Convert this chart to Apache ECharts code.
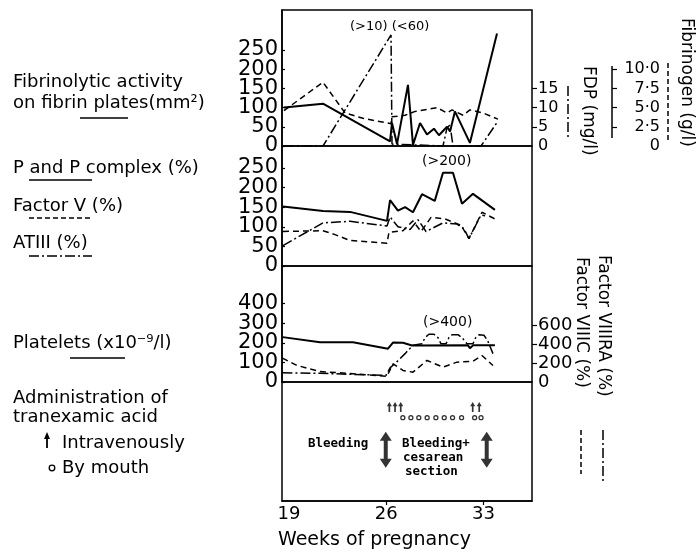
<!DOCTYPE html>
<html>
<head>
<meta charset="utf-8">
<title>Tranexamic acid in pregnancy</title>
<script src="https://cdn.jsdelivr.net/npm/echarts@6/dist/echarts.min.js"></script>
<style>
html, body { margin: 0; padding: 0; background: #fff; }
#main { width: 696px; height: 553px; }
</style>
</head>
<body>
<div id="main"></div>
<script>
// ---- data (x = weeks of pregnancy) ----
// panel 1
var fibWeeks = [18.64, 21.45, 26.28, 26.42, 26.78, 27.57, 27.93, 28.44, 28.94, 29.44, 29.8, 30.38, 30.6, 30.95, 32.03, 33.98];
var fibActivity = [100, 110, 12, 60, 5, 159, 3, 60, 30, 45, 28, 50, 38, 90, 8, 293];
var fdpWeeks = [18.64, 21.45, 26.35, 26.42, 30.09, 30.38, 30.6, 30.81, 32.83, 34.05];
var fdp = [0, 0, 28.9, 0.5, 0, 4.7, 5.5, 0, 0, 6.5];
var fibrinogenWeeks = [18.64, 21.45, 23.04, 24.33, 26.35, 26.42, 27.36, 28.08, 29.66, 30.38, 30.74, 31.53, 32.03, 32.97, 34.05];
var fibrinogen = [4.6, 8.3, 4.3, 3.6, 2.9, 3.8, 4.0, 4.5, 5.0, 4.3, 4.7, 4.0, 4.7, 4.3, 3.5];
// panel 2
var ppWeeks = [18.57, 21.45, 23.4, 26.06, 26.28, 26.85, 27.36, 27.93, 28.58, 29.5, 30.09, 30.81, 31.46, 32.25, 33.83];
var ppComplex = [152, 140, 138, 115, 168, 141, 150, 137, 183, 166, 238, 238, 159, 184, 143];
var f5Weeks = [18.57, 21.45, 22.32, 23.4, 26.06, 26.2, 27.21, 27.93, 28.51, 29.23, 30.24, 31.39, 31.96, 32.9, 33.83];
var factorV = [88, 90, 80, 65, 58, 86, 90, 115, 88, 124, 120, 104, 70, 137, 120];
var at3Weeks = [18.57, 21.45, 23.4, 26.06, 26.28, 26.85, 27.72, 28.29, 28.87, 30.09, 31.1, 31.6, 31.96, 32.83, 33.12];
var atIII = [52, 110, 114, 102, 125, 100, 93, 118, 88, 110, 107, 95, 70, 130, 128];
// panel 3
var pltWeeks = [18.55, 21.24, 23.61, 26.13, 26.49, 27.21, 27.86, 31.89, 32.03, 32.25, 33.83];
var platelets = [229, 203, 203, 170, 201, 200, 186, 187, 172, 187, 188];
var raWeeks = [18.53, 21.24, 25.99, 26.28, 26.78, 27.36, 27.93, 28.58, 28.8, 29.08, 29.44, 29.73, 29.95, 30.31, 30.52, 30.74, 31.17, 31.46, 31.82, 32.25, 32.45, 32.68, 33.04, 33.3, 33.69];
var factorVIIIRA = [98, 92, 70, 150, 215, 300, 390, 404, 470, 505, 505, 470, 404, 404, 470, 500, 500, 470, 404, 404, 470, 500, 495, 440, 300];
var vcWeeks = [18.53, 19.58, 21.24, 23.61, 26.06, 26.49, 27.21, 27.93, 28.94, 30.09, 31.1, 32.25, 32.9, 33.69];
var factorVIIIC = [252, 175, 111, 87, 61, 193, 122, 104, 228, 157, 210, 220, 280, 175];
// panel 4: tranexamic acid and bleeding episodes
var ivWeeks = [26.23, 26.64, 27.05, 32.23, 32.7];
var oralWeeks = [27.2, 27.78, 28.35, 28.95, 29.58, 30.18, 30.78, 31.43, 32.37, 32.83];
var bleedWeeks = [25.97, 33.24];
// axis ticks (left axes split in two sets so tightly packed labels all show)
var weekTicks = [19, 26, 33];
var fibTicksA = [0, 100, 200];
var fibTicksB = [50, 150, 250];
var fdpTicks = [0, 5, 10, 15];
var fibrinogenTicks = [0, 2.5, 5, 7.5, 10];
var p2TicksA = [0, 100, 200];
var p2TicksB = [50, 150, 250];
var p3TicksA = [0, 200, 400];
var p3TicksB = [100, 300];
var f8Ticks = [0, 200, 400, 600];

function pairs(xs, ys) { return xs.map(function (x, i) { return [x, ys[i]]; }); }
function row(xs, y) { return xs.map(function (x) { return [x, y]; }); }

var NUM = 'DejaVu Sans';
var SOLID = 'solid', DASH = [6, 4], DASHDOT = [10, 3, 2, 3];

function leftAxis(grid, max, ticks, withLine) {
    return {
        gridIndex: grid, type: 'value', min: 0, max: max, position: 'left',
        axisLine: { show: withLine, lineStyle: { color: '#000', width: 1.5 } },
        axisTick: { show: true, inside: true, length: 3, customValues: ticks, lineStyle: { color: '#000', width: 1.2 } },
        axisLabel: { customValues: ticks, color: '#000', fontFamily: NUM, fontSize: 21, margin: 4,
                     showMinLabel: true, showMaxLabel: true },
        splitLine: { show: false }
    };
}
function rightAxis(grid, max, ticks, size, offset, fmt, margin) {
    return {
        gridIndex: grid, type: 'value', min: 0, max: max, position: 'right', offset: offset || 0,
        axisLine: { show: false },
        axisTick: { show: true, length: 5, customValues: ticks.filter(function (t) { return t > 0; }), lineStyle: { color: '#000', width: 1.2 } },
        axisLabel: { customValues: ticks, color: '#000', fontFamily: NUM, fontSize: size, margin: margin || 6, formatter: fmt,
                     align: fmt ? 'right' : 'left', showMinLabel: true, showMaxLabel: true },
        splitLine: { show: false }
    };
}
function line(name, xs, ys, xi, yi, type, w) {
    return {
        name: name, type: 'line', xAxisIndex: xi, yAxisIndex: yi, data: pairs(xs, ys),
        symbol: 'none', clip: true, animation: false,
        lineStyle: { color: '#000', width: w || 1.5, type: type }
    };
}
function txt(x, y, s, font, align, rot) {
    return {
        type: 'text', x: x, y: y, rotation: rot || 0, silent: true,
        style: { text: s, font: font, fill: '#000', align: align || 'left', verticalAlign: 'middle', textAlign: align || 'left', textVerticalAlign: 'middle' }
    };
}
function seg(x1, y1, x2, y2, dash, w) {
    return { type: 'line', silent: true, shape: { x1: x1, y1: y1, x2: x2, y2: y2 }, style: { stroke: '#000', lineWidth: w || 1.5, lineDash: dash || null } };
}

var grids = [
    { left: 282, width: 250, top: 10, height: 136 },
    { left: 282, width: 250, top: 146, height: 120 },
    { left: 282, width: 250, top: 266, height: 116 },
    { left: 282, width: 250, top: 382, height: 119 }
].map(function (g) { g.show = true; g.borderColor = '#000'; g.borderWidth = 1.5; return g; });

var xAxes = [0, 1, 2, 3].map(function (i) {
    return {
        gridIndex: i, type: 'value', min: 18.5, max: 36.5, show: i === 3,
        axisLine: { show: true, lineStyle: { color: '#000', width: 1.5 } },
        axisTick: { show: true, length: 4, customValues: [26, 33], lineStyle: { color: '#000', width: 1.2 } },
        axisLabel: { customValues: weekTicks, color: '#000', fontFamily: NUM, fontSize: 18, margin: 4 },
        splitLine: { show: false }
    };
});

var fmtDot = function (v) { return v === 0 ? '0' : v.toFixed(1).replace('.', '·'); };

var yAxes = [
    leftAxis(0, 354, fibTicksA, true),                     // 0
    rightAxis(0, 35.4, fdpTicks, 16, 0, null, 6),          // 1 FDP
    rightAxis(0, 17.7, fibrinogenTicks, 16, 80, fmtDot, 48), // 2 fibrinogen
    leftAxis(1, 306, p2TicksA, true),                      // 3
    leftAxis(2, 592, p3TicksA, true),                      // 4
    rightAxis(2, 1227, f8Ticks, 18, 0, null, 6),           // 5 factor VIII
    { gridIndex: 3, type: 'value', min: 0, max: 10, show: false }, // 6
    leftAxis(0, 354, fibTicksB, false),                    // 7
    leftAxis(1, 306, p2TicksB, false),                     // 8
    leftAxis(2, 592, p3TicksB, false)                      // 9
];

var upArrow = 'path://M3,0 L6,5 L4,5 L4,12 L2,12 L2,5 L0,5 Z';
var dblArrow = 'path://M6,0 L12,9 L8,9 L8,27 L12,27 L6,36 L0,27 L4,27 L4,9 L0,9 Z';

var series = [
    line('Fibrinolytic activity', fibWeeks, fibActivity, 0, 0, SOLID, 2),
    line('FDP', fdpWeeks, fdp, 0, 1, DASHDOT, 1.5),
    line('Fibrinogen', fibrinogenWeeks, fibrinogen, 0, 2, DASH, 1.5),
    line('P and P complex', ppWeeks, ppComplex, 1, 3, SOLID, 2),
    line('Factor V', f5Weeks, factorV, 1, 3, DASH, 1.5),
    line('ATIII', at3Weeks, atIII, 1, 3, DASHDOT, 1.5),
    line('Platelets', pltWeeks, platelets, 2, 4, SOLID, 2),
    line('Factor VIIIRA', raWeeks, factorVIIIRA, 2, 5, DASHDOT, 1.5),
    line('Factor VIIIC', vcWeeks, factorVIIIC, 2, 5, DASH, 1.5),
    { name: 'Intravenously', type: 'scatter', xAxisIndex: 3, yAxisIndex: 6, data: row(ivWeeks, 7.9),
      symbol: upArrow, symbolSize: [5, 10], itemStyle: { color: '#000' }, animation: false },
    { name: 'By mouth', type: 'scatter', xAxisIndex: 3, yAxisIndex: 6, data: row(oralWeeks, 7.0),
      symbol: 'circle', symbolSize: 4, itemStyle: { color: '#fff', borderColor: '#000', borderWidth: 1.3 }, animation: false },
    { name: 'Bleeding', type: 'scatter', xAxisIndex: 3, yAxisIndex: 6, data: row(bleedWeeks, 4.3),
      symbol: dblArrow, symbolSize: [12, 36], itemStyle: { color: '#000' }, animation: false }
];

var LF = '18px "DejaVu Sans"';
var MONO = 'bold 12.5px "DejaVu Sans Mono"';
var graphics = [
    // left-hand labels
    txt(13, 82, 'Fibrinolytic activity', LF),
    txt(13, 103, 'on fibrin plates(mm²)', LF),
    seg(80, 118, 128, 118),
    txt(13, 168, 'P and P complex (%)', LF),
    seg(29, 180, 92, 180),
    txt(13, 206, 'Factor V (%)', LF),
    seg(29, 218, 92, 218, [5, 3]),
    txt(13, 243, 'ATIII (%)', LF),
    seg(29, 256, 92, 256, DASHDOT),
    txt(13, 343, 'Platelets (x10⁻⁹/l)', LF),
    seg(70, 358, 125, 358),
    txt(13, 398, 'Administration of', LF),
    txt(13, 417, 'tranexamic acid', LF),
    { type: 'polygon', silent: true, shape: { points: [[44, 439], [50, 439], [47, 432]] }, style: { fill: '#000' } },
    seg(47, 438, 47, 448, null, 1.8),
    txt(62, 443, 'Intravenously', LF),
    { type: 'circle', silent: true, shape: { cx: 52, cy: 468, r: 2.8 }, style: { fill: '#fff', stroke: '#000', lineWidth: 1.3 } },
    txt(62, 468, 'By mouth', LF),
    // annotations
    txt(350, 27, '(>10) (<60)', '13px "DejaVu Sans"'),
    txt(422, 161, '(>200)', '14px "DejaVu Sans"'),
    txt(423, 322, '(>400)', '14px "DejaVu Sans"'),
    // panel 4 text
    txt(308, 444, 'Bleeding', MONO),
    txt(402, 444, 'Bleeding+', MONO),
    txt(403, 458, 'cesarean', MONO),
    txt(405, 472, 'section', MONO),
    txt(278, 540, 'Weeks of pregnancy', '19px "DejaVu Sans"'),
    // right-hand axis titles
    seg(568, 86, 568, 140, DASHDOT),
    txt(588, 66, 'FDP (mg/l)', '17px "DejaVu Sans"', 'left', -Math.PI / 2),
    seg(612, 66, 612, 138, null, 1.5),
    seg(668, 63, 668, 140, [5, 3]),
    txt(686, 18, 'Fibrinogen (g/l)', '17px "DejaVu Sans"', 'left', -Math.PI / 2),
    txt(603, 255, 'Factor VIIIRA (%)', '17px "DejaVu Sans"', 'left', -Math.PI / 2),
    seg(603, 430, 603, 482, DASHDOT),
    txt(581, 257, 'Factor VIIIC (%)', '17px "DejaVu Sans"', 'left', -Math.PI / 2),
    seg(581, 430, 581, 474, [5, 3])
];

var myChart = echarts.init(document.getElementById('main'), null, { renderer: 'canvas' });
myChart.setOption({
    animation: false,
    backgroundColor: '#fff',
    grid: grids,
    xAxis: xAxes,
    yAxis: yAxes,
    series: series,
    graphic: { elements: graphics }
});
</script>
</body>
</html>
